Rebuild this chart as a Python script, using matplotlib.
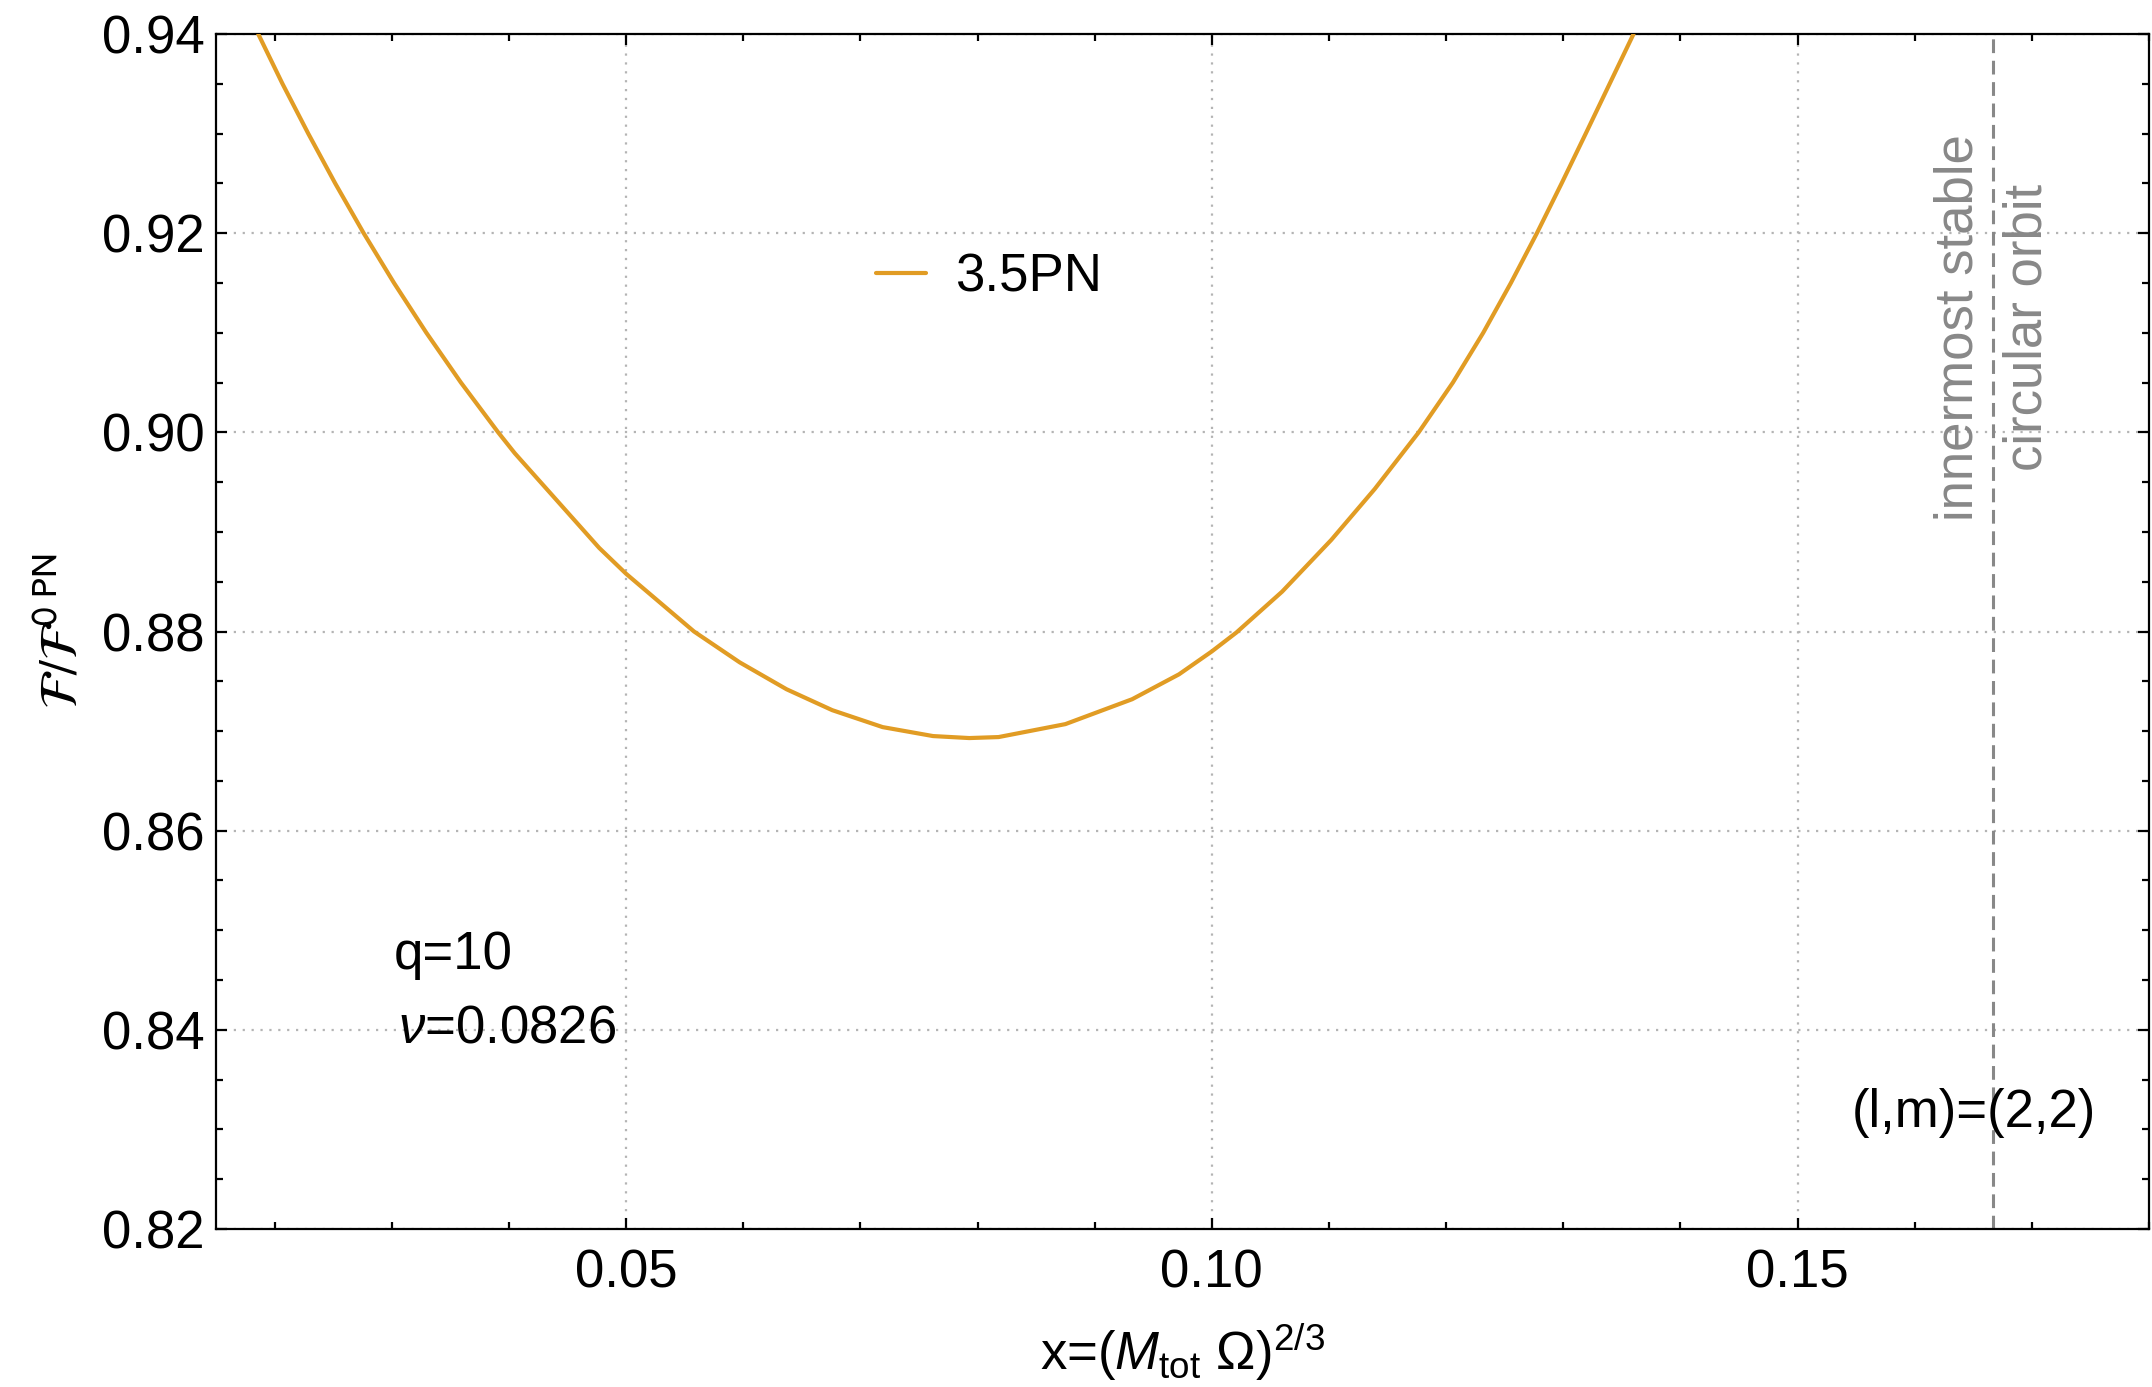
import matplotlib
matplotlib.use("Agg")
import matplotlib.pyplot as plt
from matplotlib.ticker import MultipleLocator, FixedLocator, FormatStrFormatter

plt.rcParams['font.family'] = ['Liberation Sans', 'DejaVu Sans']
plt.rcParams['mathtext.fontset'] = 'custom'
plt.rcParams['mathtext.rm'] = 'Liberation Sans'
plt.rcParams['mathtext.it'] = 'Liberation Sans:italic'
plt.rcParams['mathtext.bf'] = 'Liberation Sans:bold'
plt.rcParams['mathtext.sf'] = 'Liberation Sans'

# flux ratio at 3.5PN
x_pn = [0.01860, 0.02067, 0.02287, 0.02517, 0.02760, 0.03019, 0.03295,
        0.03590, 0.03908, 0.04050, 0.04770, 0.05000, 0.05580, 0.05970,
        0.06370, 0.06760, 0.07190, 0.07620, 0.07930, 0.08180, 0.08750,
        0.09320, 0.09720, 0.10000, 0.10210, 0.10600, 0.11020, 0.11390,
        0.11766, 0.12058, 0.12317, 0.12553, 0.12775, 0.12986, 0.13192,
        0.13396, 0.13600]
flux_pn = [0.9400, 0.9350, 0.9300, 0.9250, 0.9200, 0.9150, 0.9100,
           0.9050, 0.9000, 0.8979, 0.8884, 0.8858, 0.8800, 0.8769,
           0.8742, 0.8721, 0.8704, 0.8695, 0.8693, 0.8694, 0.8707,
           0.8732, 0.8757, 0.8780, 0.8799, 0.8840, 0.8892, 0.8943,
           0.9000, 0.9050, 0.9100, 0.9150, 0.9200, 0.9250, 0.9300,
           0.9350, 0.9400]
x_isco = 1 / 6
x_ticks = [0.05, 0.10, 0.15]
y_ticks = [0.82, 0.84, 0.86, 0.88, 0.90, 0.92, 0.94]

orange = '#E19C24'
gray = '#888888'
fs = 19

fig = plt.figure(figsize=(10.76, 6.935), dpi=200)
ax = fig.add_axes([0.1004, 0.1139, 0.8982, 0.8616])

ax.plot(x_pn, flux_pn, color=orange, lw=1.5, label='3.5PN', zorder=3,
        solid_joinstyle='round', solid_capstyle='round')
ax.axvline(x_isco, color=gray, lw=1.1, dashes=(4.5, 2.5), zorder=2)

ax.set_xlim(0.015, 0.18)
ax.set_ylim(0.82, 0.94)
ax.xaxis.set_major_locator(FixedLocator(x_ticks))
ax.xaxis.set_minor_locator(MultipleLocator(0.01))
ax.yaxis.set_major_locator(FixedLocator(y_ticks))
ax.yaxis.set_minor_locator(MultipleLocator(0.005))
ax.xaxis.set_major_formatter(FormatStrFormatter('%.2f'))
ax.yaxis.set_major_formatter(FormatStrFormatter('%.2f'))

ax.tick_params(which='both', direction='in', top=True, right=True,
               width=0.8, labelsize=fs)
ax.tick_params(which='major', length=4)
ax.tick_params(which='minor', length=2.5)
ax.tick_params(axis='x', pad=7)
ax.tick_params(axis='y', pad=4)
for s in ax.spines.values():
    s.set_linewidth(0.8)

ax.grid(True, which='major', color='#b4b4b4', lw=0.8, linestyle=(0, (1, 3)))
ax.set_axisbelow(True)

ax.set_xlabel(r'x=($M_{\mathrm{tot}}\ \Omega$)$^{2/3}$', fontsize=fs, labelpad=8)
ax.set_ylabel(r'$\mathcal{F}/\mathcal{F}^{\mathrm{0\ PN}}$', fontsize=fs,
              math_fontfamily='stixsans')
ax.yaxis.set_label_coords(-0.066, 0.5)

ax.legend(loc='center left', bbox_to_anchor=(0.3414, 0.7965), frameon=False,
          fontsize=fs, handlelength=0.95, handletextpad=0.55,
          borderpad=0, borderaxespad=0)

ax.text(0.0302, 0.8461, 'q=10', fontsize=fs, va='baseline', ha='left')
ax.text(0.0305, 0.8387, r'$\nu$=0.0826', fontsize=fs, va='baseline', ha='left')
ax.text(0.1546, 0.8302, '(l,m)=(2,2)', fontsize=fs, va='baseline', ha='left')
ax.text(x_isco, 0.9105, 'innermost stable\ncircular orbit', fontsize=fs,
        color=gray, rotation=90, ha='center', va='center',
        multialignment='center', linespacing=1.5)

fig.savefig('out.png', dpi=200)
